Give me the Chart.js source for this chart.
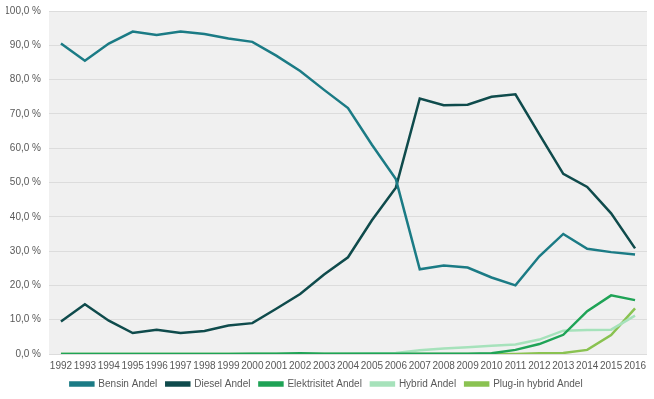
<!DOCTYPE html>
<html>
<head>
<meta charset="UTF-8">
<script src="https://cdn.jsdelivr.net/npm/chart.js"></script>
<style>
  html, body { margin: 0; padding: 0; background: #fff; }
  #wrap { width: 654px; height: 399px; }
</style>
</head>
<body>
<div id="wrap"><canvas id="c" width="654" height="399"></canvas></div>
<script>
const years = ['1992','1993','1994','1995','1996','1997','1998','1999','2000','2001','2002','2003','2004','2005','2006','2007','2008','2009','2010','2011','2012','2013','2014','2015','2016'];
const bensin = [90.5, 85.5, 90.5, 94.0, 93.0, 94.0, 93.3, 92.0, 91.0, 87.0, 82.5, 77.0, 71.7, 61.0, 51.0, 24.7, 25.8, 25.2, 22.3, 20.0, 28.5, 35.0, 30.7, 29.7, 29.0];
const diesel = [9.5, 14.5, 9.7, 6.1, 7.1, 6.1, 6.7, 8.3, 9.0, 13.2, 17.5, 23.2, 28.2, 39.0, 48.5, 74.5, 72.5, 72.7, 75.0, 75.7, 64.0, 52.5, 48.7, 41.0, 30.8];
const elektrisitet = [0, 0, 0, 0, 0, 0, 0, 0, 0.1, 0.1, 0.2, 0.1, 0.1, 0.1, 0.1, 0.1, 0.1, 0.1, 0.2, 1.2, 2.9, 5.6, 12.5, 17.1, 15.7];
const hybrid = [0, 0, 0, 0, 0, 0, 0, 0, 0, 0, 0, 0, 0.1, 0.2, 0.3, 1.1, 1.6, 2.0, 2.4, 2.8, 4.2, 6.8, 7.0, 7.1, 11.2];
const plugin = [0, 0, 0, 0, 0, 0, 0, 0, 0, 0, 0, 0, 0, 0, 0, 0, 0, 0, 0, 0, 0.2, 0.3, 1.2, 5.5, 13.3];
const yTicks = [0, 10, 20, 30, 40, 50, 60, 70, 80, 90, 100];

const font = { family: 'Liberation Sans, Arial', size: 10 };

// grey plot background
const plotBg = {
  id: 'plotBg',
  beforeDraw(chart) {
    const a = chart.chartArea, ctx = chart.ctx;
    ctx.save();
    ctx.fillStyle = '#f0f0f0';
    ctx.fillRect(a.left, a.top, a.right - a.left, a.bottom - a.top);
    ctx.restore();
  }
};

function ds(label, data, color) {
  return {
    label: label,
    data: data,
    borderColor: color,
    backgroundColor: color,
    borderWidth: 2.5,
    pointRadius: 0,
    tension: 0,
    fill: false
  };
}

new Chart(document.getElementById('c'), {
  type: 'line',
  data: {
    labels: years,
    datasets: [
      ds('Bensin Andel', bensin, '#1b7b85'),
      ds('Diesel Andel', diesel, '#0f4b4c'),
      ds('Elektrisitet Andel', elektrisitet, '#1fa356'),
      ds('Hybrid Andel', hybrid, '#a6e2bb'),
      ds('Plug-in hybrid Andel', plugin, '#8ac251')
    ]
  },
  options: {
    responsive: false,
    animation: false,
    layout: { padding: { left: 6, right: 7, top: 11, bottom: 0 } },
    plugins: {
      legend: {
        position: 'bottom',
        labels: {
          boxWidth: 23,
          boxHeight: 3,
          padding: 9,
          color: '#595959',
          font: font
        }
      },
      tooltip: { enabled: false }
    },
    scales: {
      x: {
        offset: true,
        afterFit(scale) { scale.height = 16; },
        grid: { display: false, drawTicks: false },
        border: { display: false },
        ticks: {
          color: '#595959',
          maxRotation: 0,
          autoSkip: false,
          padding: 6,
          font: font
        }
      },
      y: {
        min: 0,
        max: 100,
        afterFit(scale) { scale.width = 43; scale.paddingTop = 0; scale.paddingBottom = 0; },
        afterBuildTicks(scale) { scale.ticks = yTicks.map(v => ({ value: v })); },
        grid: { color: '#dcdcdc', lineWidth: 1, drawTicks: false },
        border: { display: false },
        ticks: {
          color: '#595959',
          padding: 8,
          font: font,
          callback: v => v.toFixed(1).replace('.', ',') + ' %'
        }
      }
    }
  },
  plugins: [plotBg]
});
</script>
</body>
</html>
